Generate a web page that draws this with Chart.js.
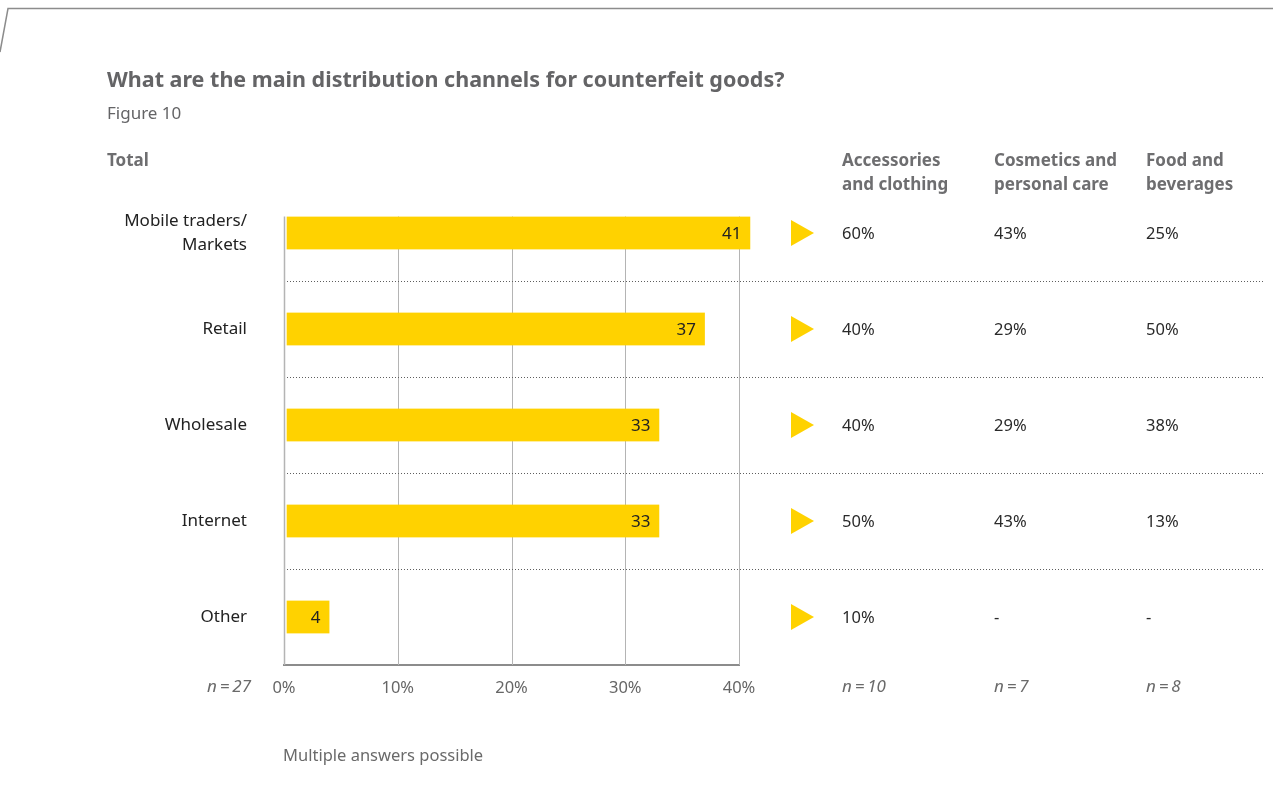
<!DOCTYPE html>
<html>
<head>
<meta charset="utf-8">
<title>Distribution channels for counterfeit goods</title>
<script src="https://cdn.jsdelivr.net/npm/chart.js@4"></script>
<style>
    html, body { margin: 0; padding: 0; background: #fff; }
    #wrap { position: relative; width: 1273px; height: 789px; }
</style>
</head>
<body>
<div id="wrap"><canvas id="chart-channels"></canvas></div>
<script>
"use strict";

const channels = [['Mobile traders/', 'Markets'], 'Retail', 'Wholesale', 'Internet', 'Other'];
const totalShare = [41, 37, 33, 33, 4];

const segmentHeaders = [['Accessories', 'and clothing'], ['Cosmetics and', 'personal care'], ['Food and', 'beverages']];
const accessories = [60, 40, 40, 50, 10];
const cosmetics = [43, 29, 29, 43, null];
const food = [25, 50, 38, 13, null];

const sampleTotal = 'n\u2009=\u200927';
const sampleSegments = ['n\u2009=\u200910', 'n\u2009=\u20097', 'n\u2009=\u20098'];

const FONT = '"Noto Sans", sans-serif';
const YELLOW = '#ffd200';
const segmentX = [842, 994, 1146];

// grid lines + left axis, from the first bar's top edge down to the x axis
const gridPlugin = {
    id: 'gridLines',
    beforeDatasetsDraw(chart) {
        const { ctx, chartArea, scales: { x } } = chart;
        const first = chart.getDatasetMeta(0).data[0];
        const top = first.y - first.height / 2;
        ctx.save();
        ctx.strokeStyle = '#b4b4b4';
        ctx.lineWidth = 1;
        x.ticks.forEach(t => {
            if (t.value === 0) return;
            const px = Math.round(x.getPixelForValue(t.value)) + 0.5;
            ctx.beginPath();
            ctx.moveTo(px, top);
            ctx.lineTo(px, chartArea.bottom);
            ctx.stroke();
        });
        ctx.restore();
    },
    afterDatasetsDraw(chart) {
        const { ctx, chartArea, scales: { x } } = chart;
        const first = chart.getDatasetMeta(0).data[0];
        const top = first.y - first.height / 2;
        const px = Math.round(x.getPixelForValue(0)) + 0.5;
        ctx.save();
        ctx.strokeStyle = '#b4b4b4';
        ctx.lineWidth = 1.5;
        ctx.beginPath();
        ctx.moveTo(px, top);
        ctx.lineTo(px, chartArea.bottom);
        ctx.stroke();

        // value inside the end of each bar
        ctx.fillStyle = '#222';
        ctx.font = '17px ' + FONT;
        ctx.textAlign = 'right';
        ctx.textBaseline = 'middle';
        chart.getDatasetMeta(0).data.forEach((bar, i) => {
            ctx.fillText(String(totalShare[i]), bar.x - 9, bar.y + 1);
        });
        ctx.restore();
    }
};

// headings, dotted row separators, arrows and the segment table
const tablePlugin = {
    id: 'segmentTable',
    afterDraw(chart) {
        const { ctx, chartArea, scales: { x, y } } = chart;
        ctx.save();

        // corner frame
        ctx.strokeStyle = '#8c8c8c';
        ctx.lineWidth = 1.5;
        ctx.beginPath();
        ctx.moveTo(0, 52);
        ctx.lineTo(8, 8.5);
        ctx.lineTo(1273, 8.5);
        ctx.stroke();

        ctx.textBaseline = 'middle';
        ctx.textAlign = 'left';
        ctx.fillStyle = '#646466';
        ctx.font = 'bold 21.5px ' + FONT;
        ctx.fillText('What are the main distribution channels for counterfeit goods?', 107, 81);
        ctx.font = '17px ' + FONT;
        ctx.fillText('Figure 10', 107, 114);
        ctx.fillStyle = '#6e6e70';
        ctx.font = 'bold 17px ' + FONT;
        ctx.fillText('Total', 107, 161);
        segmentHeaders.forEach((lines, c) => {
            lines.forEach((line, k) => ctx.fillText(line, segmentX[c], 161 + k * 24));
        });

        // dotted separators between rows
        ctx.strokeStyle = '#5e5e5e';
        ctx.lineWidth = 1;
        ctx.setLineDash([1, 2]);
        for (let i = 0; i < channels.length - 1; i++) {
            const sy = Math.round((y.getPixelForValue(i) + y.getPixelForValue(i + 1)) / 2) + 0.5;
            ctx.beginPath();
            ctx.moveTo(chartArea.left + 3, sy);
            ctx.lineTo(1265, sy);
            ctx.stroke();
        }
        ctx.setLineDash([]);

        // arrows and segment values
        const columns = [accessories, cosmetics, food];
        ctx.font = '16.5px ' + FONT;
        channels.forEach((_, i) => {
            const ry = y.getPixelForValue(i);
            ctx.fillStyle = YELLOW;
            ctx.beginPath();
            ctx.moveTo(791, ry - 13);
            ctx.lineTo(814, ry);
            ctx.lineTo(791, ry + 13);
            ctx.closePath();
            ctx.fill();

            ctx.fillStyle = '#2a2a2a';
            columns.forEach((col, c) => {
                const v = col[i];
                ctx.fillText(v == null ? '-' : v + '%', segmentX[c], ry + 1);
            });
        });

        // sample sizes
        ctx.fillStyle = '#6a6a6a';
        ctx.font = 'italic 17px ' + FONT;
        ctx.textAlign = 'right';
        ctx.fillText(sampleTotal, 251, 687);
        ctx.textAlign = 'left';
        sampleSegments.forEach((s, c) => ctx.fillText(s, segmentX[c], 687));

        ctx.font = '16.5px ' + FONT;
        ctx.fillText('Multiple answers possible', 283, 756);
        ctx.restore();
    }
};

new Chart(document.getElementById('chart-channels').getContext('2d'), {
    type: 'bar',
    data: {
        labels: channels,
        datasets: [{
            label: 'Total',
            data: totalShare,
            backgroundColor: YELLOW,
            borderColor: '#ffffff',
            borderWidth: { left: 3, top: 0, right: 0, bottom: 0 },
            borderSkipped: false,
            barThickness: 33,
            clip: false,
        }]
    },
    options: {
        indexAxis: 'y',
        responsive: true,
        maintainAspectRatio: false,
        animation: false,
        layout: {
            padding: { top: 185, right: 534, bottom: 0, left: 0 }
        },
        plugins: {
            legend: { display: false },
            tooltip: { enabled: false },
        },
        scales: {
            x: {
                min: 0,
                max: 40,
                afterFit: (scale) => { scale.height = 124; },
                grid: { display: false, drawTicks: false },
                border: { display: true, color: '#8c8c8c', width: 2 },
                ticks: {
                    stepSize: 10,
                    padding: 13,
                    color: '#666',
                    font: { family: FONT, size: 16.5 },
                    callback: (v) => v + '%',
                }
            },
            y: {
                afterFit: (scale) => { scale.width = 284; },
                grid: { display: false, drawTicks: false },
                border: { display: false },
                ticks: {
                    padding: 37,
                    color: '#222',
                    font: { family: FONT, size: 17, lineHeight: 1.42 },
                }
            }
        }
    },
    plugins: [gridPlugin, tablePlugin]
});
</script>
</body>
</html>
